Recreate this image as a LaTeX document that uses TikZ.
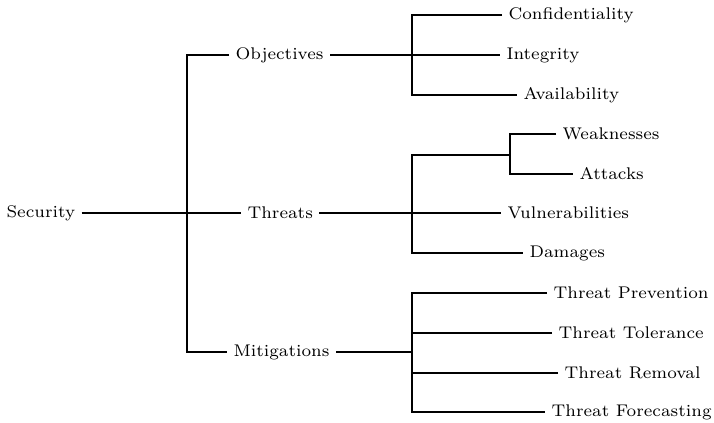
\documentclass[tikz,border=0pt]{standalone}
\begin{document}
\begin{tikzpicture}[x=0.414pt,y=-0.414pt,
  lbl/.style={anchor=west,inner xsep=2.5pt,inner ysep=0pt,font=\fontsize{7}{8.5}\selectfont},
  edge/.style={line width=0.5pt}]
\useasboundingbox (0,0) rectangle (714,422);
% root and first level
\node[lbl] (sec) at (0,213) {Security};
\node[lbl] (obj) at (229,55) {Objectives};
\node[lbl] (thr) at (241,213) {Threats};
\node[lbl] (mit) at (227,352) {Mitigations};
% objectives
\node[lbl] (conf) at (502,15) {Confidentiality};
\node[lbl] (integ) at (500,55) {Integrity};
\node[lbl] (avail) at (517,95) {Availability};
% threats
\node[lbl] (weak) at (556,134) {Weaknesses};
\node[lbl] (att) at (573,174) {Attacks};
\node[lbl] (vuln) at (501,213) {Vulnerabilities};
\node[lbl] (dam) at (523,253) {Damages};
% mitigations
\node[lbl] (prev) at (547,293) {Threat Prevention};
\node[lbl] (tol) at (552,333) {Threat Tolerance};
\node[lbl] (rem) at (558,373) {Threat Removal};
\node[lbl] (fore) at (545,412) {Threat Forecasting};
% junctions
\coordinate (j1) at (187,213);
\coordinate (j2) at (412,55);
\coordinate (j3) at (412,213);
\coordinate (wa) at (510,155);
\coordinate (j4) at (412,352);
% connectors
\draw[edge] (sec.east) -- (thr.west);
\draw[edge] (obj.west) -| (j1) |- (mit.west);
\draw[edge] (obj.east) -- (integ.west);
\draw[edge] (conf.west) -| (j2) |- (avail.west);
\draw[edge] (thr.east) -- (vuln.west);
\draw[edge] (wa) -| (j3) |- (dam.west);
\draw[edge] (weak.west) -| (wa) |- (att.west);
\draw[edge] (mit.east) -- (j4);
\draw[edge] (prev.west) -| (j4) |- (fore.west);
\draw[edge] (tol.west) -- (tol.west -| j4);
\draw[edge] (rem.west) -- (rem.west -| j4);
\end{tikzpicture}
\end{document}
